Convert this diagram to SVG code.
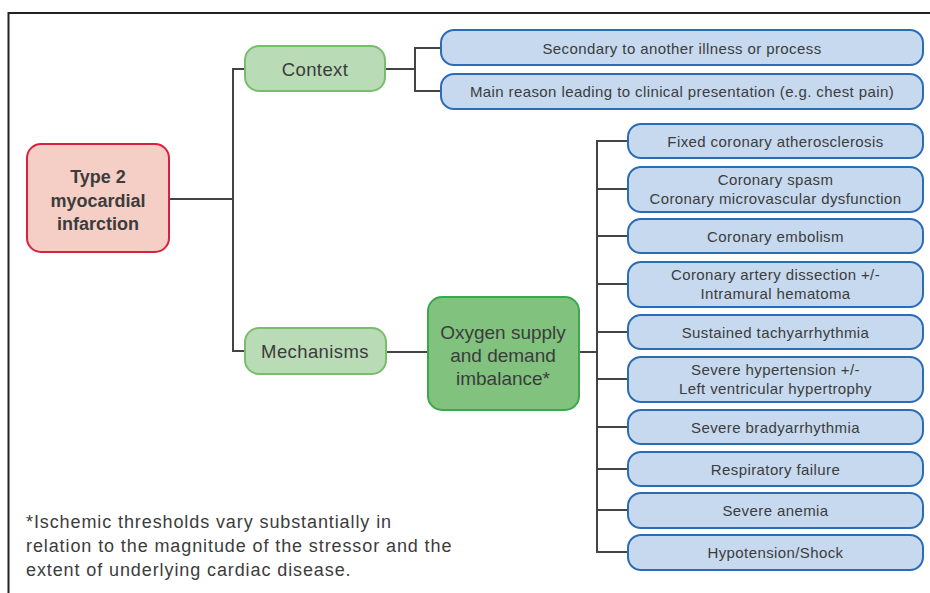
<svg xmlns="http://www.w3.org/2000/svg" width="930" height="593" viewBox="0 0 930 593">
<style>
text{font-family:"Liberation Sans",Arial,sans-serif;fill:#3c3c3c;text-anchor:middle;dominant-baseline:central}
.blue rect{fill:#c6d9ef;stroke:#2b6cb6;stroke-width:2}
.blue text{font-size:15px;letter-spacing:0.4px}
.lg rect{fill:#b9dbb6;stroke:#78bd6c;stroke-width:2}
.lg text{font-size:18.5px;letter-spacing:0.4px}
.conn path{fill:none;stroke:#444;stroke-width:2}
</style>
<rect width="930" height="593" fill="#fff"/>
<path d="M8.5 593 V13 H930" fill="none" stroke="#222" stroke-width="2"/>
<g class="conn">
<path d="M169 199 H233 M245 69 H233 V351 H245"/>
<path d="M385 69 H415 M441 48 H415 V91 H441"/>
<path d="M386 352 H428"/>
<path d="M580 352 H597 M628 141 H597 V552 H628 M597 189 H628 M597 236 H628 M597 284 H628 M597 332 H628 M597 379 H628 M597 427 H628 M597 469 H628 M597 510 H628"/>
</g>
<g id="type2">
<rect x="27" y="144" width="142" height="108" rx="14" fill="#f5cec5" stroke="#d9203f" stroke-width="2"/>
<text x="98" y="177" font-size="18" font-weight="bold">Type 2</text>
<text x="98" y="201" font-size="18" font-weight="bold">myocardial</text>
<text x="98" y="224" font-size="18" font-weight="bold">infarction</text>
</g>
<g id="context" class="lg">
<rect x="245" y="46" width="140" height="45" rx="14"/>
<text x="315" y="69">Context</text>
</g>
<g id="mechanisms" class="lg">
<rect x="245" y="328" width="141" height="46" rx="14"/>
<text x="315" y="351">Mechanisms</text>
</g>
<g id="oxygen">
<rect x="428" y="297" width="151" height="113" rx="14" fill="#80c27e" stroke="#3aa84b" stroke-width="2"/>
<text x="503" y="332" font-size="19">Oxygen supply</text>
<text x="503" y="355" font-size="19">and demand</text>
<text x="503" y="378" font-size="19">imbalance*</text>
</g>
<g id="secondary" class="blue">
<rect x="441" y="30" width="482" height="35" rx="13"/>
<text x="682" y="48">Secondary to another illness or process</text>
</g>
<g id="mainreason" class="blue">
<rect x="441" y="74" width="482" height="35" rx="13"/>
<text x="682" y="91">Main reason leading to clinical presentation (e.g. chest pain)</text>
</g>
<g id="fixed" class="blue">
<rect x="628" y="124" width="295" height="34" rx="13"/>
<text x="775.5" y="141">Fixed coronary atherosclerosis</text>
</g>
<g id="spasm" class="blue">
<rect x="628" y="167" width="295" height="45" rx="13"/>
<text x="775.5" y="179">Coronary spasm</text>
<text x="775.5" y="198">Coronary microvascular dysfunction</text>
</g>
<g id="embolism" class="blue">
<rect x="628" y="219" width="295" height="34" rx="13"/>
<text x="775.5" y="236">Coronary embolism</text>
</g>
<g id="dissection" class="blue">
<rect x="628" y="262" width="295" height="45" rx="13"/>
<text x="775.5" y="274">Coronary artery dissection +/-</text>
<text x="775.5" y="293">Intramural hematoma</text>
</g>
<g id="tachy" class="blue">
<rect x="628" y="315" width="295" height="34" rx="13"/>
<text x="775.5" y="332">Sustained tachyarrhythmia</text>
</g>
<g id="hypertension" class="blue">
<rect x="628" y="357" width="295" height="45" rx="13"/>
<text x="775.5" y="369">Severe hypertension +/-</text>
<text x="775.5" y="388">Left ventricular hypertrophy</text>
</g>
<g id="brady" class="blue">
<rect x="628" y="410" width="295" height="34" rx="13"/>
<text x="775.5" y="427">Severe bradyarrhythmia</text>
</g>
<g id="respiratory" class="blue">
<rect x="628" y="452" width="295" height="34" rx="13"/>
<text x="775.5" y="469">Respiratory failure</text>
</g>
<g id="anemia" class="blue">
<rect x="628" y="493" width="295" height="35" rx="13"/>
<text x="775.5" y="510">Severe anemia</text>
</g>
<g id="hypotension" class="blue">
<rect x="628" y="535" width="295" height="35" rx="13"/>
<text x="775.5" y="552">Hypotension/Shock</text>
</g>
<g id="footnote" font-size="18" letter-spacing="0.9">
<text x="26" y="522" style="text-anchor:start">*Ischemic thresholds vary substantially in</text>
<text x="26" y="546" style="text-anchor:start">relation to the magnitude of the stressor and the</text>
<text x="26" y="570" style="text-anchor:start">extent of underlying cardiac disease.</text>
</g>
</svg>
